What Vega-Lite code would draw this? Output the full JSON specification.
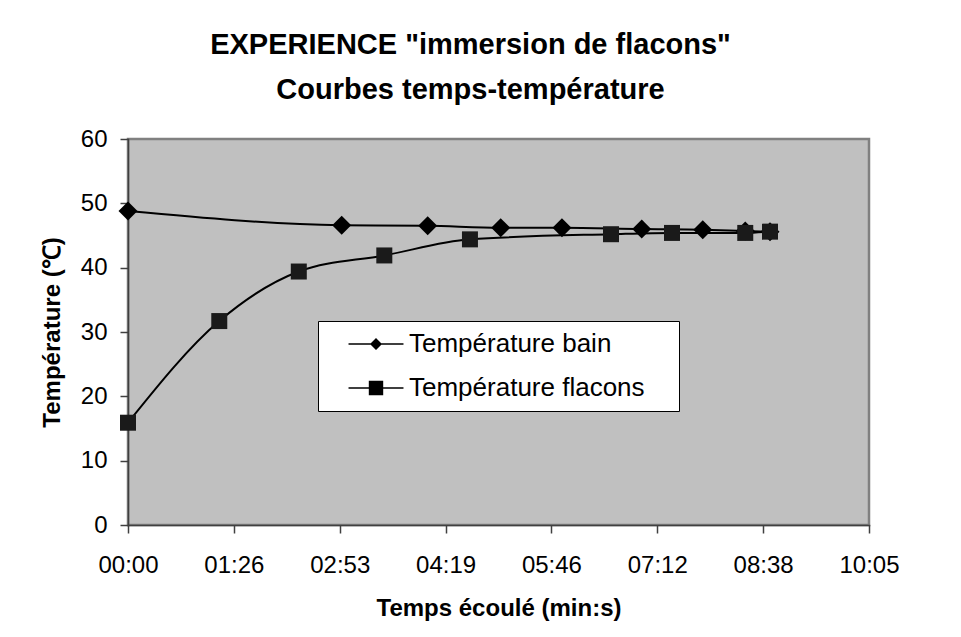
{
  "$schema": "https://vega.github.io/schema/vega-lite/v6.json",
  "width": 741,
  "height": 386,
  "autosize": {"type": "none"},
  "padding": {"left": 128, "top": 139, "right": 92, "bottom": 112},
  "background": "white",
  "title": {
    "text": ["EXPERIENCE \"immersion de flacons\"", "Courbes temps-température"],
    "font": "Liberation Sans",
    "fontSize": 29,
    "fontWeight": "bold",
    "color": "black",
    "lineHeight": 45,
    "anchor": "middle",
    "frame": "group",
    "dx": -28,
    "offset": 22
  },
  "data": {
    "values": [
      {"series": "Température bain", "t": 0, "temp": 48.8},
      {"series": "Température bain", "t": 174.4, "temp": 46.6},
      {"series": "Température bain", "t": 244.6, "temp": 46.5},
      {"series": "Température bain", "t": 304.2, "temp": 46.2},
      {"series": "Température bain", "t": 354.2, "temp": 46.2},
      {"series": "Température bain", "t": 419.3, "temp": 46.0},
      {"series": "Température bain", "t": 469.1, "temp": 45.9},
      {"series": "Température bain", "t": 503.8, "temp": 45.7},
      {"series": "Température bain", "t": 524.0, "temp": 45.6},
      {"series": "Température flacons", "t": 0, "temp": 15.9},
      {"series": "Température flacons", "t": 74.5, "temp": 31.7},
      {"series": "Température flacons", "t": 139.4, "temp": 39.4},
      {"series": "Température flacons", "t": 209.2, "temp": 41.9},
      {"series": "Température flacons", "t": 279.1, "temp": 44.4},
      {"series": "Température flacons", "t": 394.2, "temp": 45.2},
      {"series": "Température flacons", "t": 444.0, "temp": 45.4},
      {"series": "Température flacons", "t": 503.8, "temp": 45.4},
      {"series": "Température flacons", "t": 524.0, "temp": 45.6}
    ]
  },
  "encoding": {
    "x": {
      "field": "t",
      "type": "quantitative",
      "scale": {"domain": [0, 604.8], "nice": false, "zero": false},
      "axis": {
        "title": "Temps écoulé (min:s)",
        "values": [0, 86.4, 172.8, 259.2, 345.6, 432, 518.4, 604.8],
        "labelExpr": "(floor(round(datum.value)/60) < 10 ? '0' : '') + floor(round(datum.value)/60) + ':' + (round(datum.value) % 60 < 10 ? '0' : '') + (round(datum.value) % 60)",
        "grid": false,
        "tickSize": 8,
        "tickColor": "#404040",
        "tickWidth": 1.5,
        "domainColor": "#404040",
        "domainWidth": 1.5,
        "labelFont": "Liberation Sans",
        "labelFontSize": 24,
        "labelColor": "black",
        "labelPadding": 20,
        "labelFlush": false,
        "titleFont": "Liberation Sans",
        "titleFontSize": 24,
        "titleFontWeight": "bold",
        "titleColor": "black",
        "titlePadding": 19
      }
    },
    "y": {
      "field": "temp",
      "type": "quantitative",
      "scale": {"domain": [0, 60], "nice": false},
      "axis": {
        "title": "Température (℃)",
        "values": [0, 10, 20, 30, 40, 50, 60],
        "grid": false,
        "tickSize": 8,
        "tickColor": "#404040",
        "tickWidth": 1.5,
        "domainColor": "#404040",
        "domainWidth": 1.5,
        "labelFont": "Liberation Sans",
        "labelFontSize": 24,
        "labelColor": "black",
        "labelPadding": 13,
        "labelFlush": false,
        "titleFont": "Liberation Sans",
        "titleFontSize": 24,
        "titleFontWeight": "bold",
        "titleColor": "black",
        "titlePadding": 16
      }
    }
  },
  "layer": [
    {
      "mark": {"type": "line", "interpolate": "monotone", "color": "black", "strokeWidth": 2},
      "encoding": {"detail": {"field": "series"}}
    },
    {
      "transform": [{"filter": "datum.series === 'Température bain'"}],
      "mark": {"type": "point", "shape": "diamond", "filled": true, "color": "black", "opacity": 1, "size": 360}
    },
    {
      "transform": [{"filter": "datum.series === 'Température flacons'"}],
      "mark": {"type": "point", "shape": "square", "filled": true, "color": "#1a1a1a", "opacity": 1, "size": 256}
    },
    {
      "transform": [{"filter": "datum.t < -1"}],
      "mark": {"type": "point", "filled": true, "color": "black", "opacity": 1, "size": 576},
      "encoding": {
        "shape": {
          "field": "series",
          "type": "nominal",
          "scale": {
            "domain": ["Température bain", "Température flacons"],
            "range": [
              "M-2.29,-0.07H2.29V0.07H-2.29ZM0,-0.5L0.5,0L0,0.5L-0.5,0Z",
              "M-2.29,-0.07H2.29V0.07H-2.29ZM-0.6,-0.6H0.6V0.6H-0.6Z"
            ]
          },
          "legend": {
            "title": " ",
            "titleOrient": "right",
            "titlePadding": 24,
            "titleFontSize": 10,
            "orient": "none",
            "legendX": 190,
            "legendY": 182,
            "fillColor": "white",
            "strokeColor": "black",
            "padding": 10,
            "symbolSize": 576,
            "symbolOffset": 35,
            "symbolStrokeWidth": 0,
            "symbolFillColor": "black",
            "labelOffset": 20,
            "labelFont": "Liberation Sans",
            "labelFontSize": 26,
            "labelColor": "black",
            "labelLimit": 400,
            "rowPadding": 18,
            "encode": {
              "symbols": {
                "update": {
                  "fill": {"value": "#111111"},
                  "opacity": {"value": 1}
                }
              }
            }
          }
        }
      }
    }
  ],
  "config": {
    "view": {"fill": "#c0c0c0", "stroke": "#808080", "strokeWidth": 2.5},
    "axis": {"domainCap": "square"}
  }
}
